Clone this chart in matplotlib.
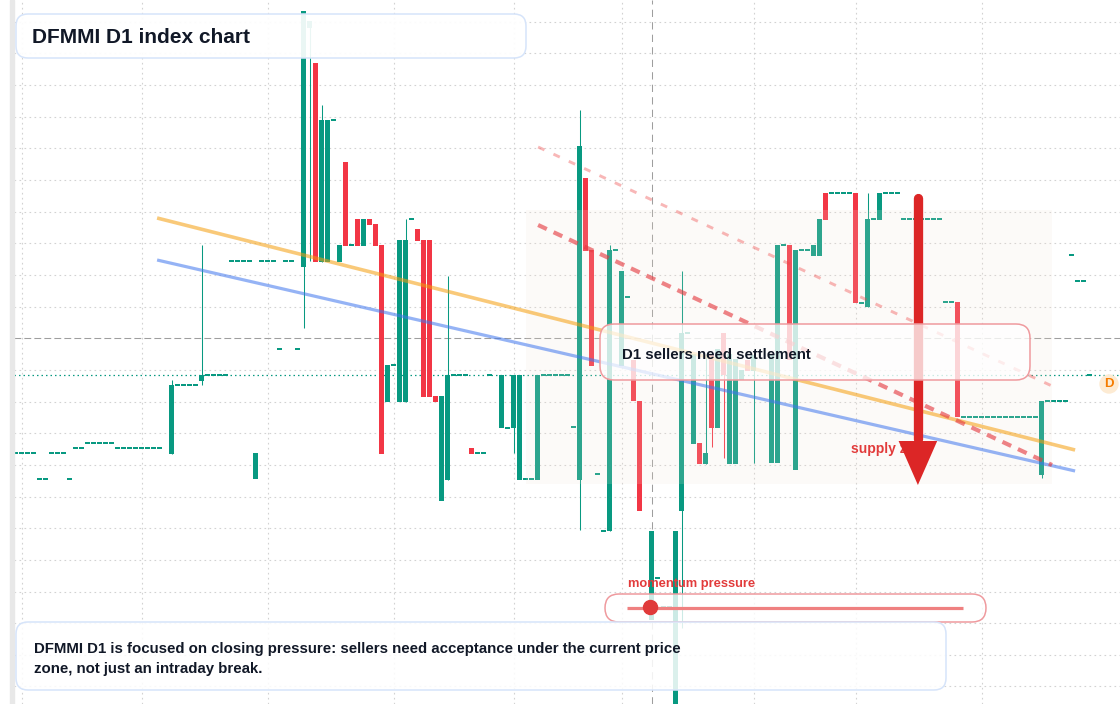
import numpy as np
import matplotlib.pyplot as plt
from matplotlib.patches import FancyBboxPatch, Rectangle, Polygon, Circle
from matplotlib.lines import Line2D
from matplotlib.transforms import IdentityTransform

nan = np.nan

# daily candles, one per trading session (index = session number)
opens = [
    547, 547, 547, 547, 521, 521, 547, 547, 547, 521,
    552, 552, 557, 557, 557, 557, 557, 552, 552, 552,
    552, 552, 552, 552, 552, nan, 546, 615, 615, 615,
    615, 619, 625, 625, 625, 625, 739, 739, 739, 739,
    521, 739, 739, 739, 651, 739, 739, 651, 733, 972,
    937, 738, 738, 880, 738, 838, 755, 781, 754, 781,
    776, 755, 598, 635, 598, 598, 781, 771, 760, 760,
    604, 499, 520, 625, 625, 625, 552, 547, 547, 625,
    nan, 572, 572, 572, 520, 521, 521, 520, 625, 625,
    625, 625, 625, 573, 520, 822, 750, 526, 469, 469,
    750, 634, 703, 640, 599, 393, 380, 422, 393, 393,
    285, 489, 667, 556, 557, 536, 646, 572, 667, 536,
    536, 620, 640, 629, nan, nan, 537, 537, 755, 755,
    530, 750, 750, 744, 744, 807, 807, 807, 807, 807,
    807, 697, 693, 781, 780, 807, 807, 807, 781, 781,
    781, 781, 781, 781, 781, 698, 698, 698, 583, 583,
    583, 583, 583, 583, 583, 583, 583, 583, 583, 583,
    583, 525, 599, 599, 599, 599, 745, 719, 719, 625,
]
highs = [
    547, 547, 547, 547, 521, 521, 547, 547, 547, 521,
    552, 552, 557, 557, 557, 557, 557, 552, 552, 552,
    552, 552, 552, 552, 552, nan, 620, 615, 615, 615,
    615, 755, 625, 625, 625, 625, 739, 739, 739, 739,
    547, 739, 739, 739, 651, 739, 739, 651, 989, 979,
    937, 895, 880, 880, 755, 838, 755, 781, 781, 781,
    776, 755, 635, 635, 760, 781, 781, 771, 760, 760,
    604, 604, 724, 625, 625, 625, 552, 547, 547, 625,
    nan, 625, 572, 625, 625, 521, 521, 625, 625, 625,
    625, 625, 625, 573, 890, 822, 750, 526, 469, 755,
    750, 729, 703, 640, 599, 393, 469, 422, 393, 393,
    469, 729, 667, 646, 557, 646, 646, 651, 667, 646,
    641, 630, 640, 645, nan, nan, 645, 755, 755, 755,
    750, 750, 750, 755, 781, 807, 807, 807, 807, 807,
    807, 697, 807, 781, 807, 807, 807, 807, 781, 781,
    781, 781, 781, 781, 781, 698, 698, 698, 583, 583,
    583, 583, 583, 583, 583, 583, 583, 583, 583, 583,
    583, 599, 599, 599, 599, 599, 745, 719, 719, 625,
]
lows = [
    547, 547, 547, 547, 521, 521, 547, 547, 547, 521,
    552, 552, 557, 557, 557, 557, 557, 552, 552, 552,
    552, 552, 552, 552, 552, nan, 546, 615, 615, 615,
    615, 615, 625, 625, 625, 625, 739, 739, 739, 739,
    521, 739, 739, 739, 651, 739, 739, 651, 672, 739,
    738, 738, 738, 880, 738, 754, 755, 754, 754, 775,
    754, 546, 598, 635, 598, 598, 781, 759, 603, 603,
    598, 499, 520, 625, 625, 625, 546, 547, 547, 625,
    nan, 572, 572, 547, 520, 521, 521, 520, 625, 625,
    625, 625, 625, 573, 470, 749, 634, 526, 469, 469,
    750, 634, 703, 599, 489, 393, 380, 422, 393, 393,
    285, 372, 667, 556, 536, 536, 553, 572, 542, 536,
    536, 620, 629, 537, nan, nan, 537, 537, 755, 640,
    530, 750, 750, 744, 744, 780, 807, 807, 807, 807,
    697, 697, 693, 781, 780, 807, 807, 807, 781, 781,
    781, 781, 781, 781, 781, 698, 698, 583, 583, 583,
    583, 583, 583, 583, 583, 583, 583, 583, 583, 583,
    583, 522, 599, 599, 599, 599, 745, 719, 719, 625,
]
closes = [
    547, 547, 547, 547, 521, 521, 547, 547, 547, 521,
    552, 552, 557, 557, 557, 557, 557, 552, 552, 552,
    552, 552, 552, 552, 552, nan, 615, 615, 615, 615,
    615, 625, 625, 625, 625, 625, 739, 739, 739, 739,
    547, 739, 739, 739, 651, 739, 739, 651, 989, 979,
    738, 880, 880, 880, 755, 754, 755, 754, 781, 775,
    754, 546, 635, 635, 760, 760, 781, 759, 603, 603,
    598, 604, 625, 625, 625, 625, 546, 547, 547, 625,
    nan, 625, 572, 625, 625, 521, 521, 625, 625, 625,
    625, 625, 625, 573, 854, 749, 634, 526, 469, 750,
    750, 729, 703, 599, 489, 393, 469, 422, 393, 393,
    469, 667, 667, 646, 536, 547, 572, 651, 625, 646,
    641, 630, 629, 645, nan, nan, 645, 755, 755, 640,
    750, 750, 750, 755, 781, 780, 807, 807, 807, 807,
    697, 697, 781, 781, 807, 807, 807, 807, 781, 781,
    781, 781, 781, 781, 781, 698, 698, 583, 583, 583,
    583, 583, 583, 583, 583, 583, 583, 583, 583, 583,
    583, 599, 599, 599, 599, 599, 745, 719, 719, 625,
]

# sessions where a new month starts (vertical grid)
month_starts = [1, 21, 42, 63, 83, 101, 123, 140, 161]
grid_step = 31.65
crosshair_session = 106
crosshair_price = 661.7
last_price = 624.7

# drawings: (session, price) end points
orange_trend = [(23.6, 782), (176.6, 550)]
blue_trend = [(23.6, 740), (176.6, 529)]
supply_mid = [(87.1, 775), (172.75, 535)]
supply_top = [(87.1, 853), (172.75, 614)]
zone_sessions = (85.1, 172.7)
zone_prices = (516.5, 790)
arrow_session = 150.4
arrow_from = 802.4
arrow_to = 515
momentum = 0.07

title = "DFMMI D1 index chart"
callout = "D1 sellers need settlement"
note_lines = ["DFMMI D1 is focused on closing pressure: sellers need acceptance under the current price",
              "zone, not just an intraday break."]

GREEN = "#089981"
RED = "#f23645"
INK = "#111827"
W, H = 1120, 704

plt.rcParams['font.family'] = ['Liberation Sans', 'DejaVu Sans']

fig = plt.figure(figsize=(W / 100, H / 100), dpi=100)
ax = fig.add_axes([14 / W, 0, 1 - 14 / W, 1])

# grid (ticks first, limits after so the ticks do not widen the view)
ax.set_xticks(month_starts)
ax.set_yticks(np.arange(crosshair_price - 11 * grid_step, 1000, grid_step))
ax.set_xlim(-0.25, -0.25 + (W - 14) / 6)
ax.set_ylim(1000 - H, 1000)
ax.tick_params(length=0, labelleft=False, labelbottom=False)
ax.grid(True, color="#d2d2d2", linestyle=(0, (1.5, 3)), linewidth=0.8)
ax.set_axisbelow(True)
for s in ax.spines.values():
    s.set_visible(False)

ax.axvline(crosshair_session, color="#9e9e9e", lw=0.75, linestyle=(0, (7, 5)), zorder=1)
ax.axhline(crosshair_price, color="#9e9e9e", lw=0.75, linestyle=(0, (6.4, 3.2)), zorder=1)
ax.axhline(last_price, color=GREEN, lw=0.9, linestyle=(0, (1.2, 2.4)), zorder=1)

# candles
o = np.array(opens, float)
h = np.array(highs, float)
l = np.array(lows, float)
c = np.array(closes, float)
idx = np.arange(len(o))
ok = ~np.isnan(o)
cols = np.where(c >= o, GREEN, RED)
flat = np.abs(c - o) < 1.6
bottom = np.where(flat, (o + c) / 2 - 0.8, np.minimum(o, c))
height = np.where(flat, 1.6, np.abs(c - o))
has_wick = ok & (h - l > np.abs(c - o) + 0.5)
ax.vlines(idx[has_wick], l[has_wick], h[has_wick], color=cols[has_wick], lw=0.75, zorder=2)
ax.bar(idx[ok], height[ok], bottom=bottom[ok], width=5 / 6, color=cols[ok], linewidth=0, zorder=2.1)

# supply zone shading
ax.add_patch(Rectangle((zone_sessions[0], zone_prices[0]), zone_sessions[1] - zone_sessions[0],
                       zone_prices[1] - zone_prices[0], facecolor="#f2e4d6", alpha=0.16, lw=0, zorder=3))

# trendlines
ax.plot(*zip(*orange_trend), color="#f59e0b", alpha=0.55, lw=2.6, solid_capstyle="butt", zorder=4)
ax.plot(*zip(*blue_trend), color="#3f76ee", alpha=0.55, lw=2.3, solid_capstyle="butt", zorder=4)
ax.plot(*zip(*supply_top), color="#ef4444", alpha=0.38, lw=2.1, linestyle=(0, (2.4, 3.4)), zorder=4)
ax.plot(*zip(*supply_mid), color="#e5393f", alpha=0.62, lw=3.0, linestyle=(0, (2.3, 1.8)), zorder=4)

ax.text(139.3, 547.3, "supply zone", color="#e23b3b", fontsize=10, fontweight="bold",
        va="baseline", ha="left", zorder=4.5)

# big down arrow
arrow_color = "#dc2626"
head_base = arrow_to + 44
ax.plot([arrow_session, arrow_session], [arrow_from, head_base + 2], color=arrow_color, lw=6.7,
        solid_capstyle="round", zorder=5)
ax.add_patch(Polygon([[arrow_session - 19.3 / 6, head_base], [arrow_session + 19.3 / 6, head_base],
                      [arrow_session, arrow_to]], closed=True, color=arrow_color, lw=0, zorder=5))

# overlay panels, placed in pixels from the top left corner
px = IdentityTransform()


def panel(x0, y0, x1, y1, r, edge, alpha, z=5):
    fig.add_artist(FancyBboxPatch((x0, H - y1), x1 - x0, y1 - y0,
                                  boxstyle=f"round,pad=0,rounding_size={r}", transform=px,
                                  facecolor=(1, 1, 1, alpha), edgecolor=edge, linewidth=1.1, zorder=z))


fig.add_artist(Rectangle((10, 0), 4, H, transform=px, color="#e8e8e8", zorder=5))

panel(16, 14, 526, 58, 12, "#d6e4fa", 0.92)
fig.text(32, H - 43.3, title, transform=px, fontsize=15, fontweight="bold", color=INK,
         va="baseline", zorder=6)

panel(600, 324, 1030, 380, 14, "#ef9a9e", 0.76)
fig.text(622, H - 359.3, callout, transform=px, fontsize=10.8, fontweight="bold", color=INK,
         va="baseline", zorder=6)

panel(605, 594, 986, 622, 14, "#ef9a9e", 0.8)
fig.text(627.5, H - 587.5, "momentum pressure", transform=px, fontsize=9.3, fontweight="bold",
         color="#e23b3b", va="baseline", zorder=6)
track = (627, 963)
fig.add_artist(Line2D(track, [H - 607.5] * 2, transform=px, color="#ef8080", lw=2.3,
                      solid_capstyle="butt", zorder=6))
fig.add_artist(Circle((track[0] + momentum * (track[1] - track[0]), H - 607.5), 7, transform=px,
                      color="#e03a3a", zorder=6.5))

panel(16, 622, 946, 690, 12, "#d6e4fa", 0.86)
for k, line in enumerate(note_lines):
    fig.text(34, H - 653.3 - 20 * k, line, transform=px, fontsize=10.8, fontweight="bold",
             color=INK, va="baseline", zorder=6)

# last price badge
fig.add_artist(Circle((1109, H - 384), 9, transform=px, color="#fdebd3", zorder=6))
fig.text(1109, H - 384, "D", transform=px, fontsize=9.5, fontweight="bold", color="#f57c00",
         ha="center", va="center", zorder=6.5)

fig.savefig("out.png", dpi=100)
